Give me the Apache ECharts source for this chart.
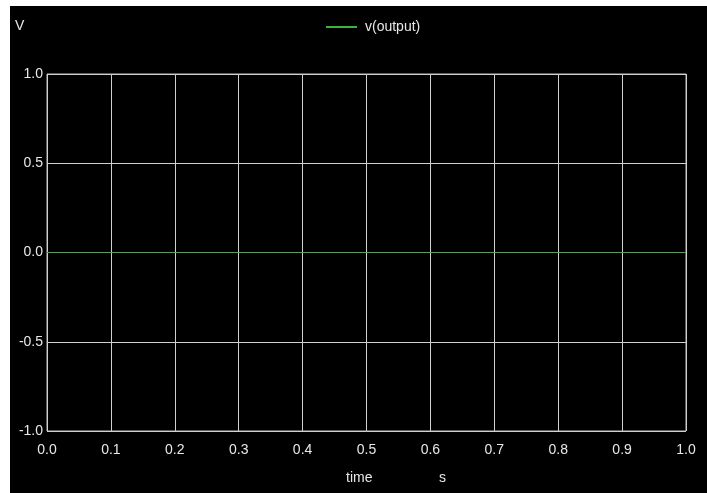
<!DOCTYPE html>
<html><head><meta charset="utf-8">
<script src="https://cdn.jsdelivr.net/npm/echarts@6/dist/echarts.min.js"></script>
<style>
html,body{margin:0;padding:0;background:#fff;width:707px;height:493px;overflow:hidden}
#c{position:absolute;left:10px;top:6px;width:697px;height:487px;background:#000}
</style></head><body>
<div id="c"></div>
<script>
var seriesName = 'v(output)';
var timeValues = [0, 0.1, 0.2, 0.3, 0.4, 0.5, 0.6, 0.7, 0.8, 0.9, 1.0];
var voltageValues = [0, 0, 0, 0, 0, 0, 0, 0, 0, 0, 0];
var yUnit = 'V';
var xName = 'time';
var xUnit = 's';

var chart = echarts.init(document.getElementById('c'), null, {renderer: 'canvas'});
var font = 'Liberation Sans, Arial, sans-serif';
var data = timeValues.map(function (t, i) { return [t, voltageValues[i]]; });
chart.setOption({
  backgroundColor: '#000',
  animation: false,
  textStyle: {fontFamily: font},
  grid: {left: 37, top: 68, right: 21, bottom: 62, show: true, borderColor: '#bdbdbd', borderWidth: 1},
  legend: {
    top: 9, left: 311,
    itemWidth: 31, itemHeight: 2, itemGap: 8,
    icon: 'rect',
    textStyle: {color: '#e8e8e8', fontSize: 14, fontFamily: font, padding: [0, 0, 0, 3]},
    data: [{name: seriesName, icon: 'rect'}]
  },
  xAxis: {
    type: 'value', min: 0, max: 1, interval: 0.1,
    axisLine: {show: false}, axisTick: {show: false},
    splitLine: {show: true, lineStyle: {color: '#d0d0d0', width: 1}},
    axisLabel: {color: '#e8e8e8', fontSize: 14, margin: 12, fontFamily: font,
      formatter: function (v) { return v.toFixed(1); }}
  },
  yAxis: {
    type: 'value', min: -1, max: 1, interval: 0.5,
    axisLine: {show: false}, axisTick: {show: false},
    splitLine: {show: true, lineStyle: {color: '#d0d0d0', width: 1}},
    axisLabel: {color: '#e8e8e8', fontSize: 14, margin: 4, fontFamily: font,
      formatter: function (v) { return v.toFixed(1); }}
  },
  graphic: [
    {type: 'text', left: 5, top: 13, style: {text: yUnit, fill: '#e8e8e8', font: '14px ' + font}},
    {type: 'text', left: 336, top: 465, style: {text: xName, fill: '#e8e8e8', font: '14px ' + font}},
    {type: 'text', left: 429, top: 465, style: {text: xUnit, fill: '#e8e8e8', font: '14px ' + font}}
  ],
  series: [{
    name: seriesName, type: 'line', data: data, showSymbol: false,
    lineStyle: {color: '#3cb33c', width: 1}, itemStyle: {color: '#3cb33c'}, z: 5
  }]
});
</script></body></html>
